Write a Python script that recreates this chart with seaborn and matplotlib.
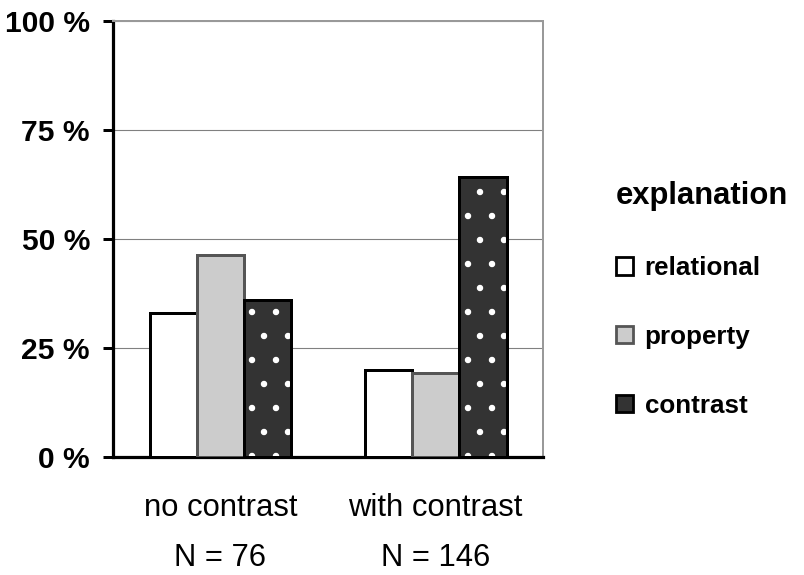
import numpy as np
import pandas as pd
import matplotlib
matplotlib.use("Agg")
import matplotlib.pyplot as plt
from matplotlib.patches import Rectangle, Patch
import seaborn as sns

conditions = ["no contrast", "with contrast"]
sample_sizes = [76, 146]
explanations = ["relational", "property", "contrast"]
relational = [33.1, 19.9]
property_ = [46.4, 19.2]
contrast = [36.1, 64.2]
y_ticks = [0, 25, 50, 75, 100]
y_tick_labels = ["0 %", "25 %", "50 %", "75 %", "100 %"]

fills = ["#ffffff", "#cccccc", "#333333"]
edges = ["#000000", "#555555", "#000000"]

df = pd.DataFrame({
    "condition": conditions * 3,
    "explanation": np.repeat(explanations, 2),
    "percent": relational + property_ + contrast,
})

# 144 dpi so the dot hatch comes out as coarse as in the original (1 pt = 2 px)
DPI = 144

sns.set_style("white")
plt.rcParams["font.family"] = ["Liberation Sans", "DejaVu Sans"]
plt.rcParams["text.color"] = "black"
plt.rcParams["xtick.color"] = "black"
plt.rcParams["ytick.color"] = "black"
plt.rcParams["hatch.linewidth"] = 0.8

fig = plt.figure(figsize=(804 / DPI, 575 / DPI), dpi=DPI)
ax = fig.add_axes([0.1405, 0.205, 0.535, 0.7585])

sns.barplot(data=df, x="condition", y="percent", hue="explanation",
            hue_order=explanations, order=conditions, palette=fills,
            width=0.66, gap=0, saturation=1, legend=False, ax=ax)

for i, cont in enumerate(ax.containers):
    for p in cont:
        p.set_edgecolor(edges[i])
        p.set_linewidth(1.5)
        p.set_zorder(3)
        if explanations[i] == "contrast":
            # white dots inside, separate black outline on top
            p.set_edgecolor("white")
            p.set_linewidth(0)
            p.set_hatch(".")
            ax.add_patch(Rectangle(p.get_xy(), p.get_width(), p.get_height(),
                                   fill=False, edgecolor="black", lw=1.5, zorder=4))

ax.set_xlim(-0.5, 1.5)
ax.set_ylim(0, 100)
ax.set_yticks(y_ticks)
ax.set_yticklabels(y_tick_labels, fontsize=15, fontweight="bold")
ax.yaxis.grid(True, color="#808080", lw=0.55)
ax.set_axisbelow(True)

ax.set_xticks(range(len(conditions)))
ax.set_xticklabels([f"{c}\nN = {n}" for c, n in zip(conditions, sample_sizes)],
                   fontsize=15.5, linespacing=1.85)
ax.set_xticks([-0.5, 0.5, 1.5], minor=True)
ax.tick_params(axis="x", which="major", length=0, pad=18)
ax.tick_params(axis="x", which="minor", length=5, width=1.5, color="black",
               direction="out")
ax.tick_params(axis="y", length=5, width=1.5, color="black", direction="out",
               pad=6.5, left=True)
ax.set_xlabel("")
ax.set_ylabel("")

for side in ["left", "bottom"]:
    ax.spines[side].set_color("black")
    ax.spines[side].set_linewidth(1.6)
for side in ["top", "right"]:
    ax.spines[side].set_color("#999999")
    ax.spines[side].set_linewidth(1.0)

handles = [Patch(facecolor=fills[i], edgecolor=edges[i], lw=1.4) for i in range(3)]
leg = fig.legend(handles, explanations, loc="upper left",
                 bbox_to_anchor=(0.75, 0.707), frameon=False,
                 title="explanation",
                 title_fontproperties={"size": 15.5, "weight": "bold"},
                 prop={"size": 13, "weight": "bold"},
                 handlelength=0.65, handleheight=0.65, handletextpad=0.45,
                 labelspacing=1.72, alignment="left", borderpad=0)

fig.savefig("out.png", dpi=DPI, facecolor="white")
